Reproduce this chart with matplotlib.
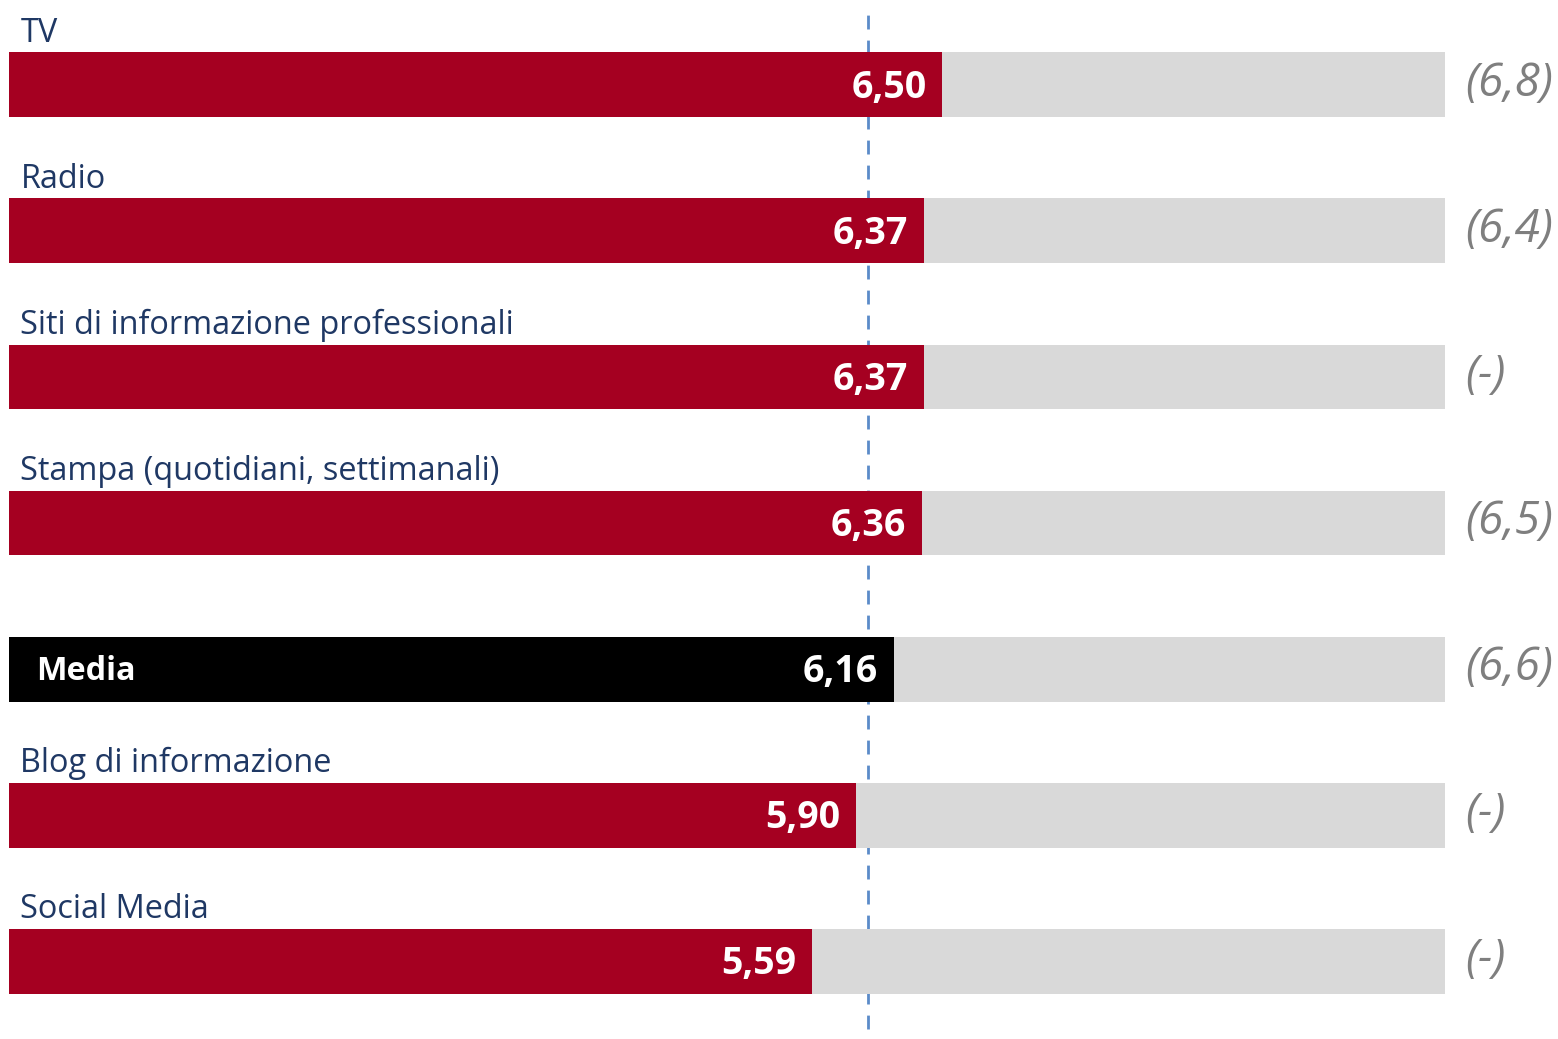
import matplotlib.pyplot as plt

# trust scores by medium (scale 0-10), previous wave in brackets
categories = ["TV", "Radio", "Siti di informazione professionali",
              "Stampa (quotidiani, settimanali)", "Media",
              "Blog di informazione", "Social Media"]
scores = [6.50, 6.37, 6.37, 6.36, 6.16, 5.90, 5.59]
previous = ["(6,8)", "(6,4)", "(-)", "(6,5)", "(6,6)", "(-)", "(-)"]
scale_max = 10
reference_value = 5.98

red = "#A50021"
grey = "#D9D9D9"
navy = "#1F3864"
plt.rcParams['font.family'] = ['Open Sans', 'DejaVu Sans']

fig = plt.figure(figsize=(15.58, 10.39), dpi=100)
ax = fig.add_axes([9 / 1558, 0, 1436 / 1558, 1])
ax.set_xlim(0, scale_max)
ax.set_ylim(6.534, -0.582)
ax.axis("off")

ypos = list(range(len(categories)))
h = 0.445

# dashed reference line sits behind the bars
ax.axvline(reference_value, color="#5B8BC9", lw=2, ls=(0, (5, 4)),
           ymin=0.01, ymax=0.99, zorder=0)

for y, cat, val, prev in zip(ypos, categories, scores, previous):
    is_avg = cat == "Media"
    ax.barh(y, scale_max, height=h, color=grey, zorder=1)
    ax.barh(y, val, height=h, color="black" if is_avg else red, zorder=2)
    ax.text(val - 0.11, y + 0.02, f"{val:.2f}".replace(".", ","),
            ha="right", va="center", color="white", fontsize=27,
            fontweight="bold", zorder=3)
    if is_avg:
        ax.text(0.19, y + 0.02, cat, ha="left", va="center", color="white",
                fontsize=23.3, fontweight="bold", zorder=3)
    else:
        ax.text(0.08, y - h / 2 - 0.02, cat, ha="left", va="bottom",
                color=navy, fontsize=23.4, zorder=3)
    ax.text(10.14, y - 0.01, prev, ha="left", va="center", color="#7F7F7F",
            fontsize=33, fontstyle="italic", clip_on=False)

fig.savefig("out.png", dpi=100)
